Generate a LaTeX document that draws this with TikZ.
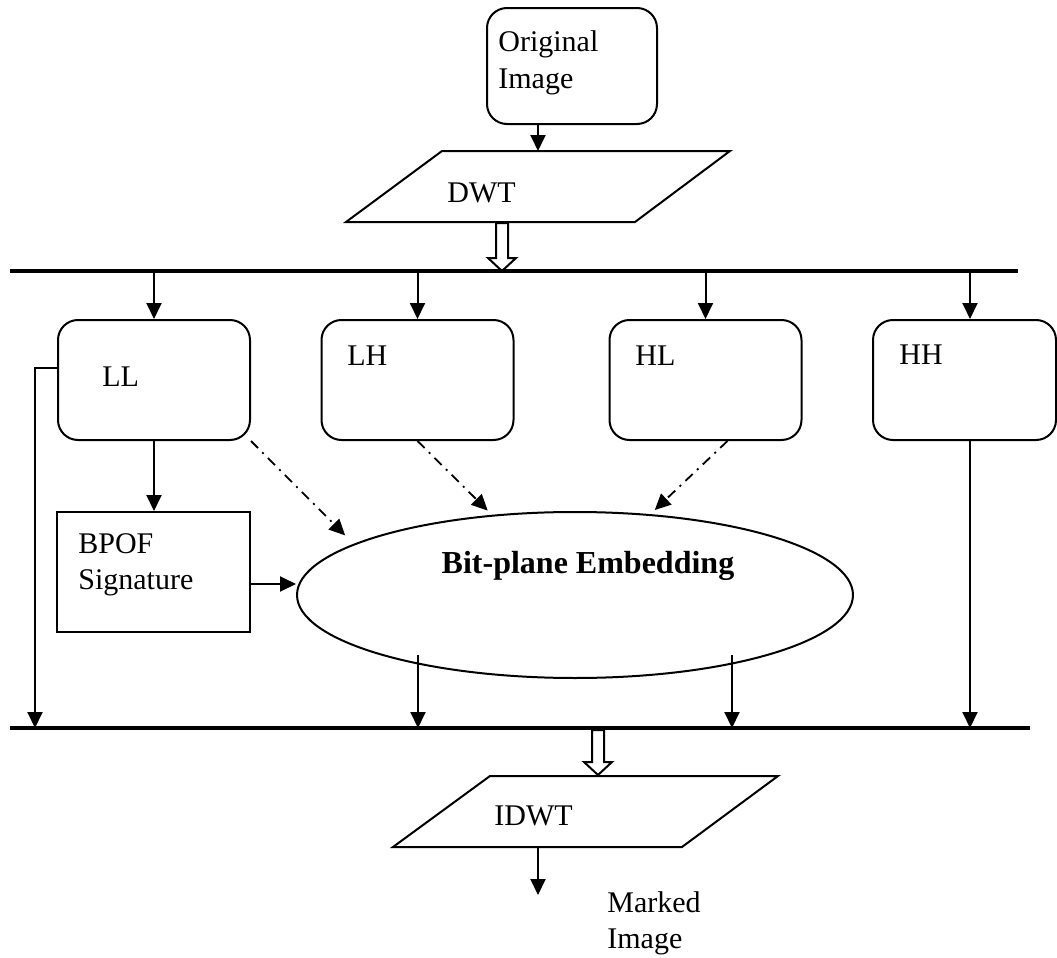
\documentclass[tikz,border=0pt]{standalone}
\usepackage{fontspec}
\setmainfont{Liberation Serif}
\usetikzlibrary{arrows.meta,shapes.geometric}

\tikzset{
  lbl/.style={font=\fontsize{15}{18}\selectfont, inner sep=0pt, anchor=base west, align=left},
  band/.style={draw, rounded corners=10pt, line width=1pt, minimum width=96pt, minimum height=60pt, inner sep=0pt},
  plainbox/.style={draw, line width=1pt, minimum width=96.5pt, minimum height=60pt, inner sep=0pt},
  arr/.style={line width=1pt, -{Triangle[width=7.5pt,length=8pt]}},
  dashdot/.style={line width=0.9pt, dash pattern=on 5pt off 3pt on 1pt off 3pt, -{Triangle[width=7.5pt,length=8pt]}},
  bus/.style={line width=2.3pt},
  hollow/.style={draw, line width=1pt, fill=white}
}
\newcommand{\hollowdown}[3]{\draw[hollow] (#1-6,#2) -- (#1+6,#2) -- (#1+6,#3-13) -- (#1+14,#3-13) -- (#1,#3) -- (#1-14,#3-13) -- (#1-6,#3-13) -- cycle;}

\begin{document}
\begin{tikzpicture}[x=0.5pt,y=-0.5pt]
\useasboundingbox (0,0) rectangle (1057,958);
%Original image
\node[band, minimum width=85pt, minimum height=58pt] (orig) at (572,66) {};
\node[lbl] (origtxt) at (498,88) {Original\\Image};
%DWT
\coordinate (dwttop) at (538,151);
\draw[line width=1pt] (442,151) -- (730,151) -- (635,222) -- (346,222) -- cycle;
\node[lbl] (dwttxt) at (447,202) {DWT};
\draw[arr] (dwttop |- orig.south) -- (dwttop);
\hollowdown{502}{223}{271}
%Bus tren
\coordinate (topL) at (10,271);
\coordinate (topR) at (1018,271);
\draw[bus] (topL) -- (topR);
%Sub-bands
\node[band] (ll) at (154,380) {};
\node[band] (lh) at (417.5,380) {};
\node[band] (hl) at (705.5,380) {};
\node[band, minimum width=91.5pt] (hh) at (964.5,380) {};
\node[lbl] (lltxt) at (102,386) {LL};
\node[lbl] (lhtxt) at (347,365) {LH};
\node[lbl] (hltxt) at (635,365) {HL};
\node[lbl] (hhtxt) at (899,364) {HH};
\coordinate (hhx) at (970,271);
\draw[arr] (ll.north |- topL) -- (ll.north);
\draw[arr] (lh.north |- topL) -- (lh.north);
\draw[arr] (hl.north |- topL) -- (hl.north);
\draw[arr] (hhx) -- (hhx |- hh.north);
%Signature
\node[plainbox] (bpof) at (153.5,572) {};
\node[lbl] (bpoftxt) at (78,589) {BPOF\\Signature};
\draw[arr] (ll.south) -- (ll.south |- bpof.north);
%Embedding
\node[draw, ellipse, line width=1pt, minimum width=278pt, minimum height=83pt, inner sep=0pt] (emb) at (575,595) {};
\node[lbl, anchor=base, font=\fontsize{16}{19}\selectfont\bfseries] (embtxt) at (588,573) {Bit-plane Embedding};
\draw[arr] ([yshift=-6pt]bpof.east) -- ([yshift=-6pt]bpof.east -| emb.west);
\draw[dashdot, shorten >=6pt] (ll.south east) -- (emb.167);
\draw[dashdot, shorten >=3pt] (lh.south) -- (emb.136);
\draw[dashdot, shorten >=3pt] ([xshift=11pt]hl.south) -- (emb.47);
%Bus duoi
\coordinate (botL) at (10,728);
\coordinate (botR) at (1030,728);
\draw[bus] (botL) -- (botR);
\coordinate (llside) at (35,728);
\coordinate (out1) at (418,655);
\coordinate (out2) at (732,655);
\draw[arr] ([yshift=6pt]ll.west) -| (llside);
\draw[arr] (out1) -- (out1 |- botL);
\draw[arr] (out2) -- (out2 |- botL);
\draw[arr] (hhx |- hh.south) -- (hhx |- botL);
\hollowdown{598}{730}{775}
%IDWT
\draw[line width=1pt] (490,776) -- (778,776) -- (682,847) -- (393,847) -- cycle;
\node[lbl] (idwttxt) at (494,825) {IDWT};
\coordinate (idwtout) at (538,847);
\coordinate (markend) at (538,895);
\draw[arr] (idwtout) -- (markend);
\node[lbl] (marktxt) at (607,948) {Marked\\Image};
\end{tikzpicture}
\end{document}
